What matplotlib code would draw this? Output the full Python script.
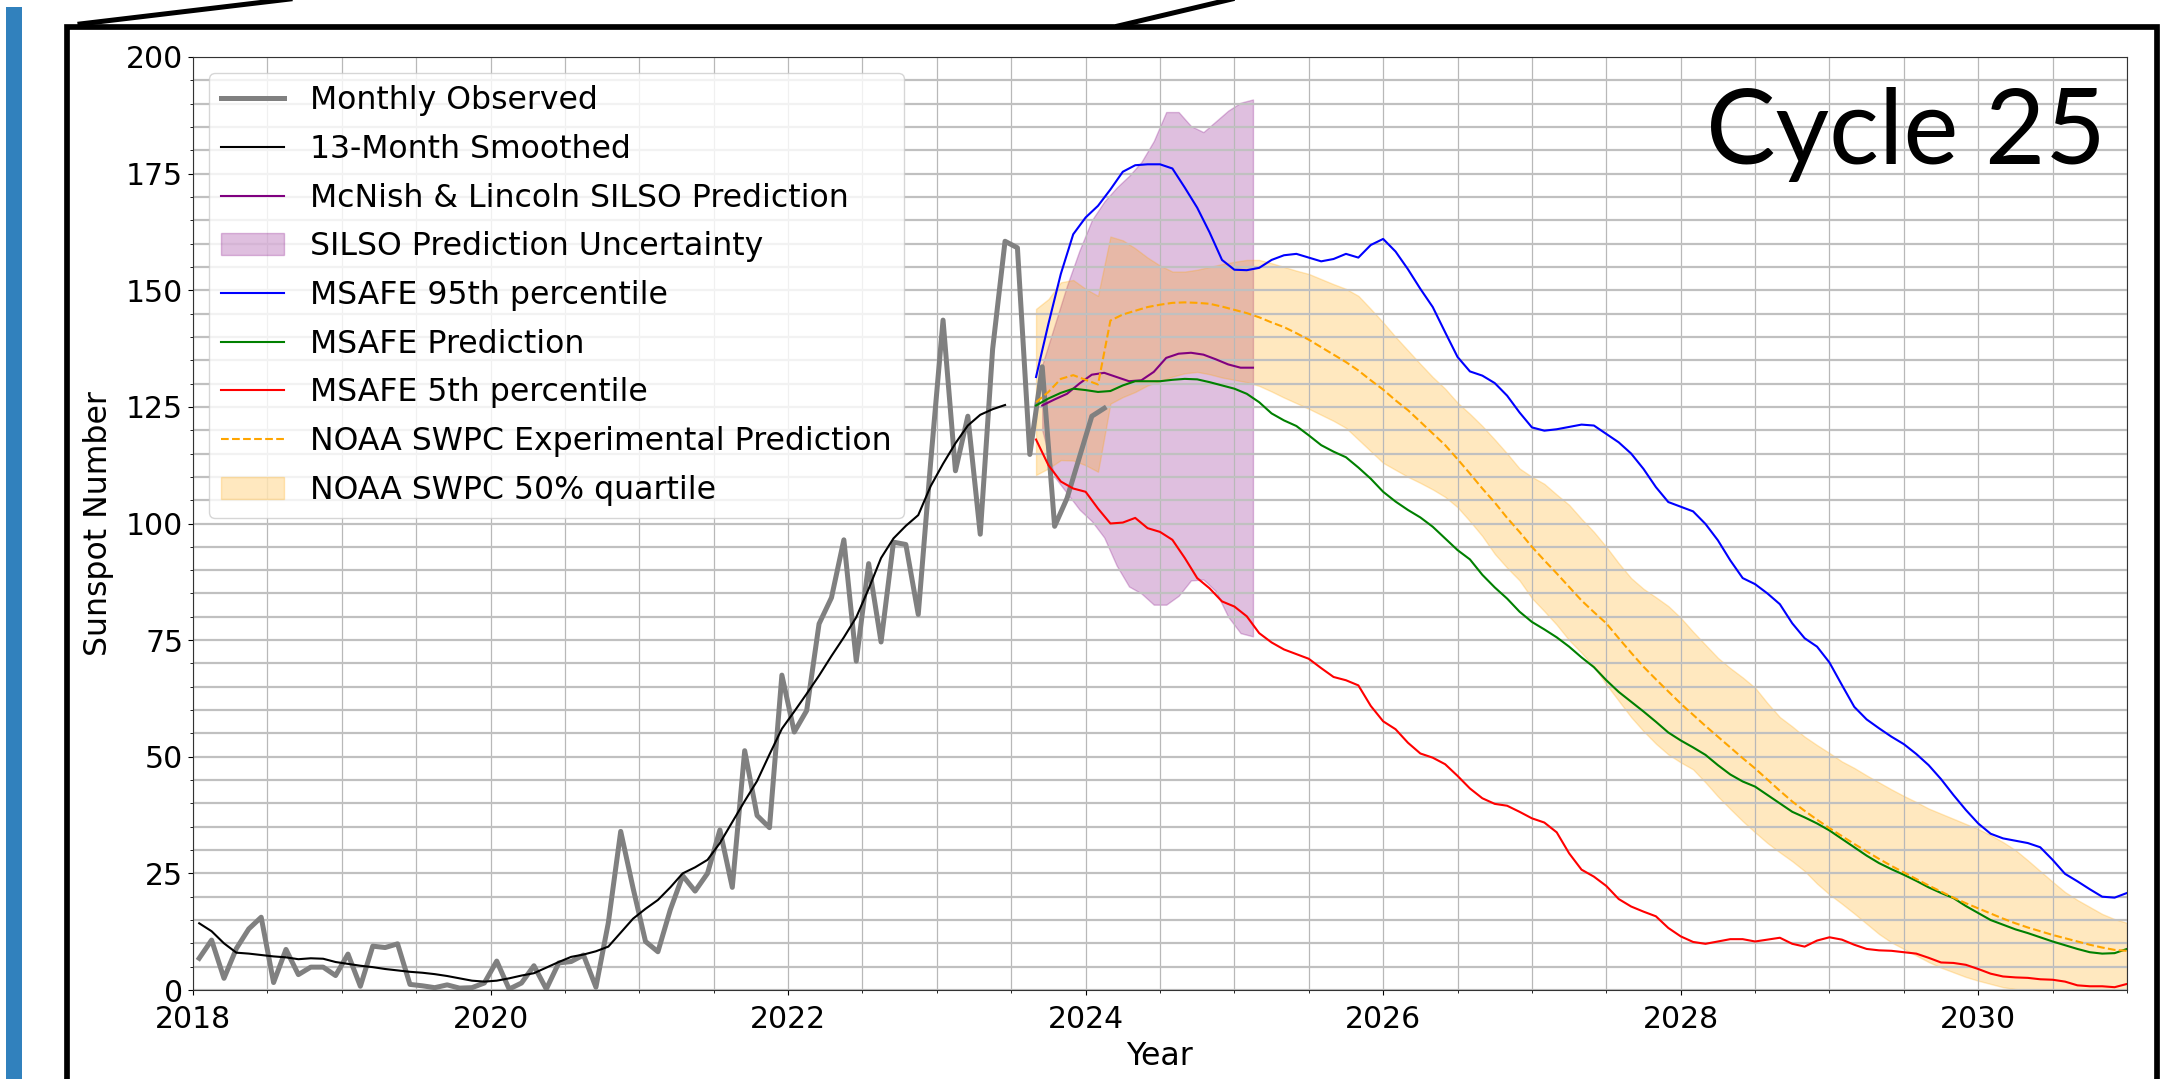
import numpy as np
import matplotlib.pyplot as plt
from matplotlib.ticker import MultipleLocator
from matplotlib.patches import Rectangle
from matplotlib.lines import Line2D

# ---- data ----
# monthly observed sunspot number, Jan 2018 .. Feb 2024
obs_2018 = [6.8, 10.7, 2.5, 8.9, 13.1, 15.6, 1.6, 8.7, 3.3, 4.9, 4.9, 3.1]
obs_2019 = [7.7, 0.8, 9.4, 9.1, 9.9, 1.2, 0.9, 0.5, 1.1, 0.4, 0.5, 1.5]
obs_2020 = [6.2, 0.2, 1.5, 5.2, 0.2, 5.8, 6.1, 7.5, 0.6, 14.4, 34.0, 21.8]
obs_2021 = [10.4, 8.2, 17.2, 24.5, 21.2, 25.0, 34.3, 22.0, 51.3, 37.4, 34.8, 67.5]
obs_2022 = [55.3, 59.9, 78.5, 84.1, 96.5, 70.5, 91.4, 74.6, 96.0, 95.5, 80.5, 113.1]
obs_2023 = [143.6, 111.3, 123.0, 97.7, 137.4, 160.5, 159.1, 114.8, 133.6, 99.4, 105.4, 114.2]
obs_2024 = [123.0, 124.7]

# 13-month smoothed, Jan 2018 .. Jun 2023
sm_2018 = [14.3, 12.6, 10.0, 8.0, 7.8, 7.5, 7.2, 7.0, 6.6, 6.8, 6.7, 6.0]
sm_2019 = [5.6, 5.2, 4.9, 4.5, 4.2, 3.9, 3.7, 3.4, 3.0, 2.5, 2.0, 1.8]
sm_2020 = [2.0, 2.5, 3.1, 3.6, 4.8, 6.0, 7.1, 7.6, 8.3, 9.3, 12.3, 15.3]
sm_2021 = [17.4, 19.3, 22.0, 25.0, 26.3, 27.9, 31.5, 36.0, 40.5, 44.8, 50.5, 56.0]
sm_2022 = [59.7, 63.5, 67.4, 71.6, 75.6, 79.9, 86.0, 92.6, 96.8, 99.5, 101.8, 108.0]
sm_2023 = [112.8, 117.2, 121.0, 123.3, 124.5, 125.4]

# McNish & Lincoln SILSO prediction, Sep 2023 .. Feb 2025 (mid-month)
silso_pred = [125.3, 126.6, 127.8, 130.0, 131.9, 132.3, 131.4, 130.5, 130.7,
              132.5, 135.5, 136.4, 136.6, 136.2, 135.2, 134.1, 133.4, 133.4]
silso_hi = [134.0, 142.5, 151.0, 158.5, 165.0, 169.0, 172.0, 174.5, 177.5,
            182.0, 188.2, 188.2, 185.2, 183.9, 186.2, 188.5, 190.2, 190.9]
silso_lo = [120.0, 110.0, 106.5, 103.0, 100.5, 97.0, 91.0, 86.5, 85.0,
            82.6, 82.6, 84.5, 87.8, 88.0, 85.5, 80.0, 76.5, 75.8]

# MSAFE percentiles, monthly Sep 2023 .. Jan 2031
msafe_95 = (
    [131.4, 142.8, 153.5, 162.0] +
    [165.6, 168.1, 171.6, 175.4, 176.8, 177.0, 177.0, 176.1, 172.0, 167.7, 162.4, 156.5] +
    [154.4, 154.3, 154.8, 156.5, 157.5, 157.8, 157.0, 156.2, 156.7, 157.8, 157.0, 159.7] +
    [161.0, 158.3, 154.5, 150.3, 146.4, 141.0, 135.7, 132.6, 131.7, 130.1, 127.4, 123.8] +
    [120.6, 119.9, 120.2, 120.7, 121.2, 121.0, 119.2, 117.4, 115.0, 111.7, 107.8, 104.6] +
    [103.6, 102.6, 99.9, 96.4, 92.1, 88.3, 87.0, 85.0, 82.7, 78.6, 75.4, 73.6] +
    [70.2, 65.4, 60.7, 58.0, 56.1, 54.3, 52.7, 50.6, 48.2, 45.2, 41.8, 38.6] +
    [35.7, 33.5, 32.5, 32.0, 31.5, 30.6, 27.9, 24.9, 23.3, 21.6, 20.0, 19.8] +
    [20.8])
msafe_50 = (
    [125.3, 126.8, 128.0, 128.9] +
    [128.6, 128.2, 128.4, 129.6, 130.5, 130.5, 130.5, 130.8, 131.0, 130.9, 130.3, 129.6] +
    [128.9, 127.8, 126.0, 123.6, 122.1, 120.9, 118.9, 116.8, 115.4, 114.2, 112.0, 109.6] +
    [106.8, 104.7, 102.9, 101.3, 99.3, 96.8, 94.3, 92.3, 89.0, 86.3, 83.9, 81.1] +
    [78.9, 77.3, 75.6, 73.6, 71.3, 69.2, 66.4, 63.9, 61.8, 59.7, 57.5, 55.2] +
    [53.5, 52.0, 50.4, 48.2, 46.2, 44.7, 43.6, 41.8, 40.0, 38.2, 37.0, 35.7] +
    [34.2, 32.4, 30.6, 28.8, 27.2, 25.9, 24.7, 23.4, 22.0, 20.8, 19.7, 18.0] +
    [16.5, 15.0, 14.0, 13.0, 12.2, 11.3, 10.4, 9.6, 8.8, 8.1, 7.8, 7.9] +
    [8.8])
msafe_5 = (
    [118.0, 112.5, 109.0, 107.5] +
    [106.8, 103.2, 100.0, 100.2, 101.2, 99.0, 98.2, 96.5, 92.6, 88.3, 86.1, 83.3] +
    [82.2, 80.1, 76.5, 74.5, 73.0, 72.0, 71.0, 69.0, 67.1, 66.4, 65.3, 60.9] +
    [57.6, 55.9, 53.0, 50.7, 49.8, 48.4, 45.9, 43.2, 41.1, 39.9, 39.5, 38.2] +
    [36.8, 35.9, 33.8, 29.3, 25.8, 24.3, 22.3, 19.5, 17.9, 16.8, 15.8, 13.3] +
    [11.5, 10.3, 9.9, 10.4, 10.9, 10.9, 10.4, 10.8, 11.2, 9.9, 9.3, 10.6] +
    [11.3, 10.8, 9.7, 8.8, 8.5, 8.4, 8.1, 7.8, 6.9, 5.9, 5.8, 5.4] +
    [4.5, 3.5, 2.9, 2.7, 2.6, 2.3, 2.2, 1.8, 1.0, 0.8, 0.8, 0.6] +
    [1.3])

# NOAA SWPC experimental prediction and 50% band, monthly Sep 2023 .. Jan 2031
noaa_pred = (
    [126.0, 128.2, 131.0, 131.8] +
    [130.8, 129.8, 143.5, 144.8, 145.6, 146.4, 146.9, 147.3, 147.4, 147.3, 147.1, 146.5] +
    [145.8, 145.1, 144.2, 143.1, 142.1, 140.8, 139.4, 137.8, 136.2, 134.6, 132.8, 130.7] +
    [128.7, 126.4, 124.3, 121.8, 119.3, 116.8, 113.8, 110.7, 107.5, 104.5, 101.2, 98.2] +
    [95.0, 92.1, 89.3, 86.4, 83.5, 81.0, 78.6, 75.4, 72.3, 69.3, 66.6, 64.0] +
    [61.4, 59.0, 56.6, 54.3, 52.0, 49.7, 47.5, 45.1, 42.7, 40.4, 38.4, 36.5] +
    [34.7, 33.0, 31.3, 29.7, 28.1, 26.6, 25.2, 23.8, 22.4, 21.1, 19.8, 18.6] +
    [17.5, 16.4, 15.3, 14.3, 13.4, 12.6, 11.8, 11.1, 10.4, 9.7, 9.1, 8.6] +
    [8.4])
noaa_hi = (
    [146.0, 148.1, 151.7, 152.2] +
    [150.3, 148.8, 161.5, 160.7, 159.0, 157.0, 155.3, 154.0, 154.0, 154.4, 155.0, 155.6] +
    [156.1, 156.5, 156.5, 155.8, 155.0, 154.2, 153.5, 152.4, 151.3, 150.3, 148.8, 146.0] +
    [143.1, 140.0, 137.1, 134.2, 131.4, 128.9, 125.9, 123.5, 120.9, 118.0, 115.0, 111.8] +
    [110.0, 108.5, 106.2, 104.0, 101.0, 98.2, 95.0, 91.5, 88.3, 86.0, 84.2, 82.3] +
    [79.8, 76.8, 74.0, 71.2, 69.0, 67.0, 64.8, 61.5, 58.5, 56.5, 54.3, 52.5] +
    [50.8, 49.0, 47.6, 46.0, 44.5, 43.0, 41.6, 40.3, 38.9, 37.8, 36.7, 35.6] +
    [34.5, 33.2, 31.7, 30.0, 27.8, 25.5, 23.2, 21.0, 19.3, 17.8, 16.3, 15.2] +
    [14.4])
noaa_lo = (
    [110.4, 111.8, 113.6, 113.5] +
    [112.5, 111.1, 125.7, 127.1, 128.2, 129.6, 130.5, 131.5, 132.2, 132.5, 132.0, 131.3] +
    [130.8, 130.3, 129.5, 128.3, 127.0, 125.8, 124.6, 123.3, 122.0, 120.5, 118.0, 115.5] +
    [113.0, 111.5, 110.0, 108.7, 107.3, 105.7, 103.5, 100.5, 97.3, 93.5, 90.5, 87.8] +
    [84.0, 81.2, 78.3, 75.0, 72.3, 69.3, 65.5, 62.0, 58.5, 55.5, 52.8, 50.5] +
    [48.8, 47.3, 44.5, 41.5, 38.8, 36.2, 33.8, 31.5, 29.5, 27.6, 25.5, 22.8] +
    [20.5, 18.5, 16.4, 14.2, 12.0, 10.2, 8.8, 7.4, 6.0, 4.8, 3.8, 2.8] +
    [2.0, 1.3, 0.6, 0.2, 0.0, 0.0, 0.0, 0.0, 0.0, 0.0, 0.0, 0.0] +
    [0.0])

observed = obs_2018 + obs_2019 + obs_2020 + obs_2021 + obs_2022 + obs_2023 + obs_2024
smoothed = sm_2018 + sm_2019 + sm_2020 + sm_2021 + sm_2022 + sm_2023


def months(start, n):
    """fractional-year positions of n consecutive months"""
    return start + np.arange(n) / 12.0


t_obs = months(2018 + 0.5 / 12, len(observed))
t_sm = months(2018 + 0.5 / 12, len(smoothed))
t_silso = months(2023 + 8.5 / 12, len(silso_pred))
t_pred = months(2023 + 8.0 / 12, len(msafe_50))

FS = 21.5     # tick labels
LFS = 22.7    # legend and axis labels
W, H = 2173, 1079

fig = plt.figure(figsize=(W / 100, H / 100), dpi=100)
ax = fig.add_axes([193 / W, 1 - 990 / H, (2127 - 193) / W, (990 - 57) / H])

ax.plot(t_obs, observed, color="gray", lw=3.6, label="Monthly Observed")
ax.plot(t_sm, smoothed, color="black", lw=1.5, label="13-Month Smoothed")
ax.plot(t_silso, silso_pred, color="purple", lw=1.5,
        label="McNish & Lincoln SILSO Prediction")
ax.fill_between(t_silso, silso_lo, silso_hi, color="purple", alpha=0.25,
                label="SILSO Prediction Uncertainty")
ax.plot(t_pred, msafe_95, color="blue", lw=1.5, label="MSAFE 95th percentile")
ax.plot(t_pred, msafe_50, color="green", lw=1.5, label="MSAFE Prediction")
ax.plot(t_pred, msafe_5, color="red", lw=1.5, label="MSAFE 5th percentile")
ax.plot(t_pred, noaa_pred, color="orange", lw=1.5, ls="--",
        label="NOAA SWPC Experimental Prediction")
ax.fill_between(t_pred, noaa_lo, noaa_hi, color="orange", alpha=0.25,
                label="NOAA SWPC 50% quartile")

ax.set_xlim(2018, 2031)
ax.set_ylim(0, 200)
ax.set_xticks(range(2018, 2031, 2))
ax.xaxis.set_minor_locator(MultipleLocator(0.5))
ax.yaxis.set_major_locator(MultipleLocator(25))
ax.yaxis.set_minor_locator(MultipleLocator(5))
ax.tick_params(labelsize=FS)
ax.tick_params(axis="x", which="major", pad=7.5)
ax.xaxis.grid(True, which="both", color="#b8b8b8", lw=0.9)
ax.yaxis.grid(True, which="both", color="#c0c0c0", lw=1.6)
for s in ax.spines.values():
    s.set_color("#333333")
ax.set_xlabel("Year", fontsize=LFS, labelpad=5)
ax.set_ylabel("Sunspot Number", fontsize=LFS, labelpad=9)
ax.legend(loc="upper left", fontsize=LFS, labelspacing=0.56)

fig.text(2106 / W, 1 - 164 / H, "Cycle 25", family="Lato", fontsize=75,
         ha="right", va="baseline")

# slide decorations around the chart
fig.add_artist(Rectangle((6 / W, 0), 16 / W, 1 - 7 / H, transform=fig.transFigure,
                         color="#3181BD", lw=0))
fig.add_artist(Line2D([67 / W, 67 / W, 2157 / W, 2157 / W],
                      [-0.01, 1 - 26.5 / H, 1 - 26.5 / H, -0.01],
                      transform=fig.transFigure, color="black", lw=4.1,
                      solid_joinstyle="miter"))
fig.add_artist(Line2D([80 / W, 290 / W], [1 - 24 / H, 1 + 1 / H],
                      transform=fig.transFigure, color="black", lw=3.6))
fig.add_artist(Line2D([1118 / W, 1232 / W], [1 - 26 / H, 1 + 1 / H],
                      transform=fig.transFigure, color="black", lw=3.6))

fig.savefig("out.png", dpi=100)
